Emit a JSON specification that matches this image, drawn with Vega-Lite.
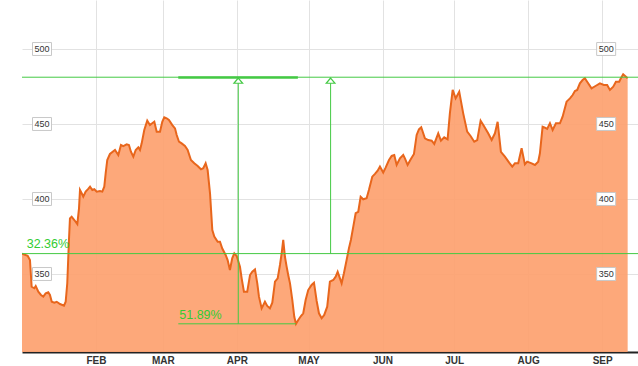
{
  "$schema": "https://vega.github.io/schema/vega-lite/v6.json",
  "width": 616,
  "height": 352,
  "autosize": {"type": "none"},
  "padding": {"left": 22, "top": 0, "right": 0, "bottom": 14},
  "background": "white",
  "config": {"view": {"stroke": null}, "font": "Liberation Sans"},
  "datasets": {
    "prices": [
      {"date":"2014-01-01T00:00","price":363.6},
      {"date":"2014-01-03T09:00","price":362.2},
      {"date":"2014-01-04T08:00","price":359.3},
      {"date":"2014-01-05T01:00","price":341.5},
      {"date":"2014-01-06T04:00","price":340.5},
      {"date":"2014-01-06T18:00","price":342.0},
      {"date":"2014-01-07T20:00","price":338.2},
      {"date":"2014-01-08T23:00","price":336.0},
      {"date":"2014-01-09T22:00","price":334.9},
      {"date":"2014-01-10T22:00","price":337.1},
      {"date":"2014-01-12T00:00","price":337.8},
      {"date":"2014-01-12T17:00","price":336.0},
      {"date":"2014-01-13T11:00","price":331.5},
      {"date":"2014-01-14T13:00","price":330.9},
      {"date":"2014-01-15T13:00","price":331.5},
      {"date":"2014-01-16T22:00","price":330.0},
      {"date":"2014-01-18T14:00","price":328.9},
      {"date":"2014-01-19T07:00","price":331.5},
      {"date":"2014-01-19T23:00","price":343.8},
      {"date":"2014-01-20T16:00","price":372.7},
      {"date":"2014-01-21T02:00","price":387.1},
      {"date":"2014-01-21T19:00","price":388.2},
      {"date":"2014-01-22T22:00","price":386.0},
      {"date":"2014-01-24T04:00","price":383.3},
      {"date":"2014-01-24T21:00","price":393.8},
      {"date":"2014-01-25T07:00","price":406.0},
      {"date":"2014-01-26T00:00","price":403.8},
      {"date":"2014-01-26T16:00","price":401.5},
      {"date":"2014-01-27T16:00","price":404.9},
      {"date":"2014-01-28T18:00","price":406.7},
      {"date":"2014-01-29T12:00","price":408.2},
      {"date":"2014-01-30T11:00","price":406.0},
      {"date":"2014-01-31T07:00","price":406.5},
      {"date":"2014-02-01T07:00","price":404.9},
      {"date":"2014-02-02T16:00","price":405.3},
      {"date":"2014-02-03T15:00","price":404.9},
      {"date":"2014-02-04T11:00","price":408.2},
      {"date":"2014-02-05T01:00","price":417.1},
      {"date":"2014-02-05T17:00","price":426.0},
      {"date":"2014-02-06T20:00","price":430.0},
      {"date":"2014-02-08T23:00","price":432.7},
      {"date":"2014-02-10T08:00","price":429.3},
      {"date":"2014-02-11T11:00","price":436.0},
      {"date":"2014-02-12T10:00","price":435.3},
      {"date":"2014-02-13T20:00","price":436.4},
      {"date":"2014-02-14T19:00","price":436.0},
      {"date":"2014-02-15T15:00","price":431.5},
      {"date":"2014-02-16T15:00","price":428.2},
      {"date":"2014-02-17T15:00","price":432.7},
      {"date":"2014-02-18T17:00","price":434.5},
      {"date":"2014-02-19T10:00","price":432.7},
      {"date":"2014-02-20T03:00","price":437.1},
      {"date":"2014-02-21T05:00","price":446.0},
      {"date":"2014-02-22T11:00","price":452.2},
      {"date":"2014-02-23T14:00","price":449.3},
      {"date":"2014-02-24T13:00","price":450.5},
      {"date":"2014-02-25T10:00","price":451.5},
      {"date":"2014-02-26T10:00","price":444.9},
      {"date":"2014-02-27T19:00","price":444.9},
      {"date":"2014-02-28T18:00","price":451.5},
      {"date":"2014-03-01T14:00","price":454.5},
      {"date":"2014-03-02T14:00","price":453.8},
      {"date":"2014-03-03T13:00","price":452.7},
      {"date":"2014-03-04T23:00","price":449.3},
      {"date":"2014-03-06T02:00","price":447.1},
      {"date":"2014-03-06T19:00","price":442.7},
      {"date":"2014-03-07T18:00","price":438.2},
      {"date":"2014-03-08T21:00","price":437.1},
      {"date":"2014-03-10T06:00","price":435.3},
      {"date":"2014-03-11T09:00","price":432.7},
      {"date":"2014-03-12T18:00","price":426.0},
      {"date":"2014-03-14T04:00","price":423.8},
      {"date":"2014-03-15T14:00","price":422.0},
      {"date":"2014-03-16T23:00","price":419.8},
      {"date":"2014-03-17T22:00","price":420.5},
      {"date":"2014-03-18T22:00","price":423.8},
      {"date":"2014-03-19T18:00","price":419.3},
      {"date":"2014-03-20T18:00","price":403.8},
      {"date":"2014-03-21T17:00","price":379.3},
      {"date":"2014-03-22T13:00","price":374.9},
      {"date":"2014-03-23T23:00","price":371.5},
      {"date":"2014-03-24T22:00","price":371.5},
      {"date":"2014-03-25T21:00","price":367.0},
      {"date":"2014-03-27T07:00","price":362.7},
      {"date":"2014-03-28T03:00","price":359.3},
      {"date":"2014-03-29T02:00","price":352.7},
      {"date":"2014-03-30T01:00","price":360.5},
      {"date":"2014-03-30T22:00","price":363.8},
      {"date":"2014-03-31T22:00","price":362.0},
      {"date":"2014-04-02T07:00","price":354.9},
      {"date":"2014-04-03T00:00","price":347.1},
      {"date":"2014-04-03T23:00","price":338.2},
      {"date":"2014-04-05T08:00","price":338.2},
      {"date":"2014-04-06T12:00","price":349.3},
      {"date":"2014-04-07T11:00","price":351.5},
      {"date":"2014-04-08T14:00","price":353.1},
      {"date":"2014-04-09T13:00","price":343.8},
      {"date":"2014-04-10T06:00","price":334.9},
      {"date":"2014-04-11T09:00","price":327.1},
      {"date":"2014-04-12T18:00","price":331.5},
      {"date":"2014-04-13T17:00","price":328.7},
      {"date":"2014-04-14T20:00","price":327.1},
      {"date":"2014-04-15T20:00","price":330.9},
      {"date":"2014-04-16T23:00","price":344.9},
      {"date":"2014-04-18T02:00","price":347.1},
      {"date":"2014-04-19T01:00","price":356.0},
      {"date":"2014-04-19T18:00","price":363.8},
      {"date":"2014-04-20T10:00","price":372.7},
      {"date":"2014-04-21T03:00","price":361.5},
      {"date":"2014-04-21T20:00","price":354.9},
      {"date":"2014-04-22T12:00","price":349.3},
      {"date":"2014-04-23T06:00","price":343.8},
      {"date":"2014-04-24T05:00","price":332.7},
      {"date":"2014-04-25T01:00","price":321.5},
      {"date":"2014-04-25T18:00","price":316.8},
      {"date":"2014-04-26T17:00","price":319.3},
      {"date":"2014-04-27T20:00","price":322.0},
      {"date":"2014-04-28T19:00","price":323.8},
      {"date":"2014-04-29T19:00","price":332.7},
      {"date":"2014-04-30T21:00","price":339.3},
      {"date":"2014-05-02T07:00","price":342.7},
      {"date":"2014-05-03T07:00","price":344.2},
      {"date":"2014-05-04T10:00","price":332.0},
      {"date":"2014-05-05T09:00","price":323.8},
      {"date":"2014-05-06T12:00","price":320.5},
      {"date":"2014-05-07T14:00","price":322.7},
      {"date":"2014-05-08T20:00","price":328.2},
      {"date":"2014-05-09T23:00","price":344.9},
      {"date":"2014-05-11T09:00","price":346.0},
      {"date":"2014-05-12T09:00","price":348.2},
      {"date":"2014-05-13T05:00","price":351.5},
      {"date":"2014-05-14T04:00","price":347.1},
      {"date":"2014-05-14T21:00","price":343.8},
      {"date":"2014-05-15T20:00","price":350.5},
      {"date":"2014-05-16T23:00","price":359.3},
      {"date":"2014-05-17T22:00","price":367.1},
      {"date":"2014-05-18T18:00","price":372.7},
      {"date":"2014-05-19T18:00","price":381.6},
      {"date":"2014-05-20T18:00","price":390.5},
      {"date":"2014-05-21T20:00","price":391.5},
      {"date":"2014-05-22T20:00","price":401.5},
      {"date":"2014-05-23T22:00","price":399.8},
      {"date":"2014-05-25T08:00","price":400.5},
      {"date":"2014-05-26T07:00","price":406.0},
      {"date":"2014-05-27T17:00","price":414.9},
      {"date":"2014-05-28T20:00","price":416.7},
      {"date":"2014-05-29T23:00","price":418.9},
      {"date":"2014-05-30T22:00","price":421.6},
      {"date":"2014-06-01T07:00","price":417.6},
      {"date":"2014-06-02T07:00","price":420.9},
      {"date":"2014-06-03T17:00","price":426.0},
      {"date":"2014-06-04T20:00","price":428.7},
      {"date":"2014-06-05T22:00","price":429.3},
      {"date":"2014-06-06T22:00","price":422.7},
      {"date":"2014-06-08T07:00","price":427.1},
      {"date":"2014-06-09T16:00","price":429.3},
      {"date":"2014-06-10T09:00","price":427.1},
      {"date":"2014-06-11T12:00","price":422.7},
      {"date":"2014-06-12T18:00","price":426.4},
      {"date":"2014-06-14T04:00","price":430.0},
      {"date":"2014-06-15T07:00","price":442.7},
      {"date":"2014-06-16T06:00","price":446.4},
      {"date":"2014-06-17T05:00","price":447.8},
      {"date":"2014-06-18T18:00","price":440.5},
      {"date":"2014-06-20T03:00","price":439.3},
      {"date":"2014-06-21T14:00","price":438.9},
      {"date":"2014-06-22T16:00","price":436.7},
      {"date":"2014-06-24T08:00","price":443.8},
      {"date":"2014-06-25T11:00","price":438.9},
      {"date":"2014-06-26T20:00","price":441.1},
      {"date":"2014-06-28T06:00","price":439.8},
      {"date":"2014-06-29T05:00","price":457.1},
      {"date":"2014-06-30T09:00","price":472.7},
      {"date":"2014-07-01T15:00","price":467.1},
      {"date":"2014-07-03T03:00","price":471.5},
      {"date":"2014-07-04T19:00","price":457.1},
      {"date":"2014-07-06T11:00","price":444.9},
      {"date":"2014-07-07T21:00","price":442.0},
      {"date":"2014-07-09T10:00","price":438.2},
      {"date":"2014-07-10T16:00","price":439.3},
      {"date":"2014-07-12T02:00","price":452.2},
      {"date":"2014-07-13T11:00","price":448.7},
      {"date":"2014-07-15T06:00","price":443.8},
      {"date":"2014-07-16T17:00","price":439.3},
      {"date":"2014-07-18T02:00","price":443.8},
      {"date":"2014-07-19T05:00","price":451.5},
      {"date":"2014-07-20T14:00","price":431.5},
      {"date":"2014-07-22T06:00","price":428.2},
      {"date":"2014-07-24T01:00","price":424.2},
      {"date":"2014-07-25T08:00","price":421.6},
      {"date":"2014-07-26T11:00","price":423.8},
      {"date":"2014-07-27T20:00","price":423.8},
      {"date":"2014-07-29T06:00","price":433.8},
      {"date":"2014-07-30T15:00","price":423.1},
      {"date":"2014-07-31T14:00","price":424.9},
      {"date":"2014-08-02T11:00","price":423.8},
      {"date":"2014-08-03T20:00","price":422.7},
      {"date":"2014-08-05T05:00","price":424.9},
      {"date":"2014-08-05T22:00","price":430.5},
      {"date":"2014-08-07T01:00","price":448.2},
      {"date":"2014-08-08T00:00","price":447.6},
      {"date":"2014-08-08T23:00","price":446.7},
      {"date":"2014-08-10T03:00","price":450.5},
      {"date":"2014-08-11T06:00","price":446.0},
      {"date":"2014-08-12T15:00","price":450.5},
      {"date":"2014-08-14T07:00","price":450.5},
      {"date":"2014-08-15T10:00","price":454.9},
      {"date":"2014-08-17T02:00","price":464.9},
      {"date":"2014-08-18T12:00","price":467.1},
      {"date":"2014-08-19T15:00","price":469.3},
      {"date":"2014-08-20T14:00","price":472.0},
      {"date":"2014-08-21T13:00","price":472.7},
      {"date":"2014-08-22T16:00","price":477.1},
      {"date":"2014-08-23T19:00","price":479.3},
      {"date":"2014-08-24T18:00","price":480.5},
      {"date":"2014-08-25T17:00","price":478.2},
      {"date":"2014-08-27T13:00","price":473.8},
      {"date":"2014-08-29T09:00","price":475.5},
      {"date":"2014-08-31T01:00","price":477.1},
      {"date":"2014-09-01T17:00","price":476.0},
      {"date":"2014-09-03T02:00","price":476.0},
      {"date":"2014-09-04T06:00","price":472.7},
      {"date":"2014-09-05T15:00","price":474.9},
      {"date":"2014-09-06T18:00","price":478.2},
      {"date":"2014-09-08T03:00","price":478.2},
      {"date":"2014-09-08T20:00","price":480.5},
      {"date":"2014-09-09T19:00","price":483.1},
      {"date":"2014-09-10T23:00","price":481.5},
      {"date":"2014-09-11T16:00","price":480.5}
    ],
    "levels": [
      {"date":"2014-01-01T00:00","end":"2014-09-16T00:00","price":481.2},
      {"date":"2014-01-01T00:00","end":"2014-09-16T00:00","price":363.6}
    ],
    "lowLine": [
      {"date":"2014-03-07T11:00","end":"2014-04-25T18:00","price":316.8}
    ],
    "highMark": [
      {"date":"2014-03-07T11:00","end":"2014-04-26T13:00","price":481.0}
    ],
    "spans": [
      {"date":"2014-04-01T14:00","price":316.8,"top":479.5},
      {"date":"2014-05-10T06:00","price":363.6,"top":479.5}
    ],
    "arrows": [
      {"date":"2014-04-01T14:00","price":478.9},
      {"date":"2014-05-10T06:00","price":478.9}
    ],
    "pct": [
      {"date":"2014-01-02T23:00","price":367.1,"label":"32.36%"},
      {"date":"2014-03-07T21:00","price":319.8,"label":"51.89%"}
    ],
    "ticks": [
      {"date":"2014-01-09T09:00","price":350,"label":"350"},
      {"date":"2014-01-09T09:00","price":400,"label":"400"},
      {"date":"2014-01-09T09:00","price":450,"label":"450"},
      {"date":"2014-01-09T09:00","price":500,"label":"500"},
      {"date":"2014-09-02T16:00","price":350,"label":"350"},
      {"date":"2014-09-02T16:00","price":400,"label":"400"},
      {"date":"2014-09-02T16:00","price":450,"label":"450"},
      {"date":"2014-09-02T16:00","price":500,"label":"500"}
    ]
  },
  "encoding": {
    "x": {
      "field": "date",
      "type": "temporal",
      "scale": {"domain": [{"year": 2014, "month": 1, "date": 1}, {"year": 2014, "month": 9, "date": 16}]},
      "axis": {
        "title": null,
        "values": [
          {"year": 2014, "month": 2, "date": 1},
          {"year": 2014, "month": 3, "date": 1},
          {"year": 2014, "month": 4, "date": 1},
          {"year": 2014, "month": 5, "date": 1},
          {"year": 2014, "month": 6, "date": 1},
          {"year": 2014, "month": 7, "date": 1},
          {"year": 2014, "month": 8, "date": 1},
          {"year": 2014, "month": 9, "date": 1}
        ],
        "labelExpr": "upper(timeFormat(datum.value, '%b'))",
        "grid": true,
        "gridColor": "#e2e2e2",
        "ticks": false,
        "domainColor": "#222222",
        "domainWidth": 2,
        "labelFontSize": 10,
        "labelFontWeight": "bold",
        "labelColor": "#333333",
        "labelPadding": 3,
        "labelFlush": false,
        "labelOverlap": false
      }
    },
    "y": {
      "field": "price",
      "type": "quantitative",
      "scale": {"domain": [298, 532.67], "nice": false, "zero": false},
      "axis": {
        "title": null,
        "values": [350, 400, 450, 500],
        "labels": false,
        "ticks": false,
        "domain": false,
        "grid": true,
        "gridColor": "#e2e2e2"
      }
    }
  },
  "layer": [
    {
      "data": {"name": "prices"},
      "mark": {"type": "area", "clip": true, "fill": "#fda16f", "fillOpacity": 0.92, "line": {"color": "#e8661c", "strokeWidth": 2}}
    },
    {
      "data": {"name": "levels"},
      "mark": {"type": "rule", "color": "#44c944", "strokeWidth": 1},
      "encoding": {"x2": {"field": "end"}}
    },
    {
      "data": {"name": "lowLine"},
      "mark": {"type": "rule", "color": "#44c944", "strokeWidth": 1},
      "encoding": {"x2": {"field": "end"}}
    },
    {
      "data": {"name": "highMark"},
      "mark": {"type": "rule", "color": "#44c944", "strokeWidth": 2.5},
      "encoding": {"x2": {"field": "end"}}
    },
    {
      "data": {"name": "spans"},
      "mark": {"type": "rule", "color": "#44c944", "strokeWidth": 1},
      "encoding": {"y2": {"field": "top"}}
    },
    {
      "data": {"name": "arrows"},
      "mark": {"type": "point", "shape": "M0,-0.6L1,0.6L-1,0.6Z", "size": 76, "fill": "white", "fillOpacity": 1, "stroke": "#44c944", "strokeWidth": 1.2, "opacity": 1}
    },
    {
      "data": {"name": "pct"},
      "mark": {"type": "text", "align": "left", "baseline": "alphabetic", "fontSize": 12.5, "color": "#33cc33"},
      "encoding": {"text": {"field": "label"}}
    },
    {
      "data": {"name": "ticks"},
      "mark": {"type": "point", "shape": "M-1,-0.68L1,-0.68L1,0.68L-1,0.68Z", "size": 361, "fill": "white", "fillOpacity": 1, "stroke": "#c8c8c8", "strokeWidth": 1, "opacity": 1}
    },
    {
      "data": {"name": "ticks"},
      "mark": {"type": "text", "align": "center", "baseline": "middle", "fontSize": 9, "color": "#333333"},
      "encoding": {"text": {"field": "label"}}
    }
  ]
}
